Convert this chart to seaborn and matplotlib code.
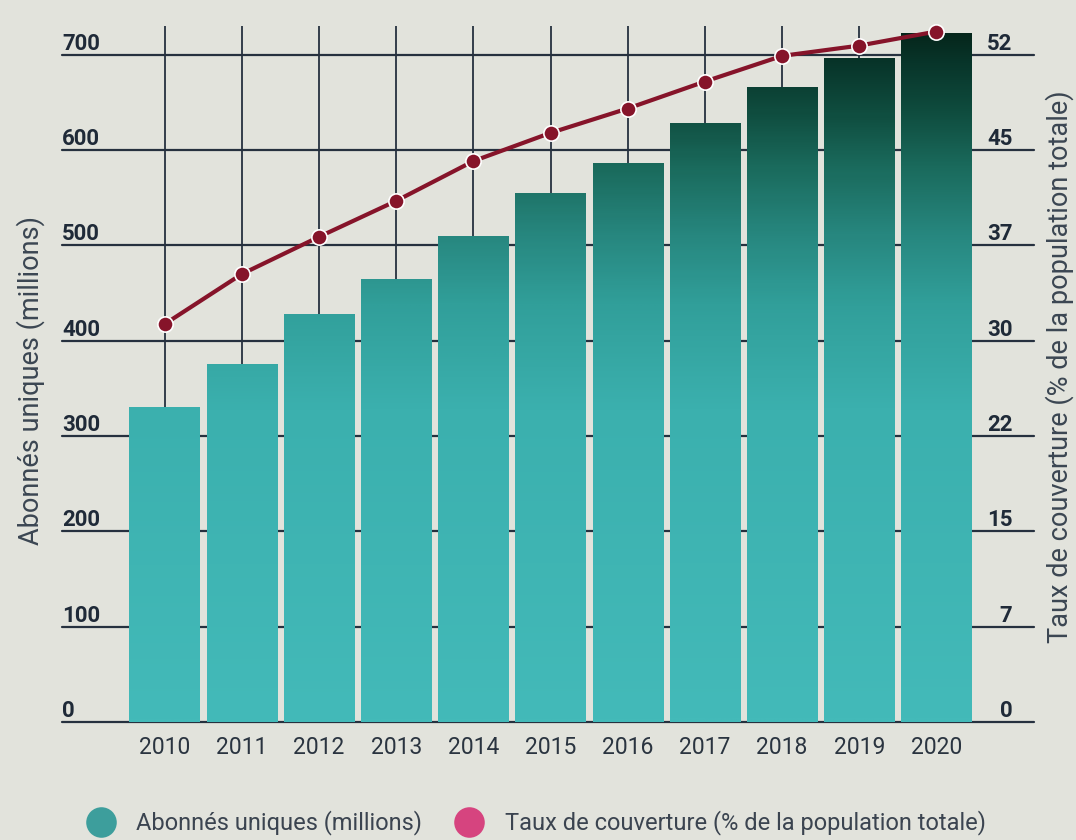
import numpy as np
import pandas as pd
import matplotlib
matplotlib.use("Agg")
import matplotlib.pyplot as plt
import seaborn as sns
from matplotlib.colors import LinearSegmentedColormap
from matplotlib.lines import Line2D

# --- data ---
years = ["2010", "2011", "2012", "2013", "2014", "2015",
         "2016", "2017", "2018", "2019", "2020"]
abonnes = [330, 375, 427, 464, 509, 554, 586, 628, 665, 696, 722]
taux = [31.0, 34.9, 37.8, 40.6, 43.7, 45.9, 47.8, 49.9, 51.9, 52.7, 53.8]
left_ticks = [0, 100, 200, 300, 400, 500, 600, 700]
right_tick_labels = ["0", "7", "15", "22", "30", "37", "45", "52"]

sns.set_style("white")
plt.rcParams["font.family"] = ["Roboto", "DejaVu Sans"]

bg = "#e2e3dc"
grid_col = "#26313f"
text_col = "#1f2a38"
label_col = "#3b4652"
bar_cmap = LinearSegmentedColormap.from_list(
    "teal", [(0.0, "#43bab9"), (0.45, "#3bb0ae"), (0.6, "#319f9a"),
             (0.7, "#27877f"), (0.8, "#1a6a5c"), (0.88, "#0f4c3e"),
             (0.95, "#08352a"), (1.0, "#052419")])

df = pd.DataFrame({"annee": years, "abonnes": abonnes, "taux": taux})
ymax = 730
ymax_right = ymax * 52 / 700

fig, ax = plt.subplots(figsize=(10.76, 8.4), dpi=100)
fig.patch.set_facecolor(bg)
ax.set_facecolor(bg)
fig.subplots_adjust(left=126 / 1076, right=975 / 1076, bottom=118 / 840, top=814 / 840)

# --- bars, filled with a vertical gradient ---
sns.barplot(data=df, x="annee", y="abonnes", color="#3aa9a8", width=0.91,
            ax=ax, zorder=2)
for bar in list(ax.patches):
    x0, w, h = bar.get_x(), bar.get_width(), bar.get_height()
    ax.imshow(np.linspace(0, h / ymax, 256).reshape(-1, 1), cmap=bar_cmap,
              vmin=0, vmax=1, extent=(x0, x0 + w, 0, h), origin="lower",
              aspect="auto", zorder=2.5)
    bar.set_facecolor("none")
    bar.set_edgecolor("none")
ax.set_xlim(-0.5, len(years) - 0.5)
ax.set_ylim(0, ymax)

# grid: vertical through categories, horizontal running under the tick labels
ax.set_axisbelow(True)
ax.grid(axis="x", color=grid_col, lw=1.3)
ax.grid(axis="y", visible=False)
ax.set_yticks(left_ticks)
for v in left_ticks:
    ax.axhline(v, xmin=-0.075, xmax=1.07, color=grid_col, lw=1.6,
               zorder=1, clip_on=False)

ax.tick_params(axis="y", length=0, pad=46, labelsize=16, labelcolor=text_col)
for lab in ax.get_yticklabels():
    lab.set_ha("left")
    lab.set_va("bottom")
    lab.set_fontweight("bold")
ax.tick_params(axis="x", length=0, pad=10, labelsize=16.5, labelcolor="#2a3440")
ax.set_xlabel("")
ax.set_ylabel("Abonnés uniques (millions)", fontsize=19.5, color=label_col)
ax.yaxis.set_label_coords(-0.095, 0.49)
sns.despine(ax=ax, left=True, bottom=True)

# --- coverage line on the right axis ---
ax2 = ax.twinx()
sns.pointplot(data=df, x="annee", y="taux", ax=ax2, color="#86142a",
              errorbar=None, markers="o", markersize=11, linewidth=3,
              markeredgecolor="white", markeredgewidth=1.2)
for ln in ax2.lines:
    ln.set_clip_on(False)
ax2.set_xlim(-0.5, len(years) - 0.5)
ax2.set_ylim(0, ymax_right)
ax2.grid(False)
ax2.set_yticks(np.linspace(0, 52, len(right_tick_labels)))
ax2.set_yticklabels(right_tick_labels)
ax2.tick_params(axis="y", length=0, pad=27, labelsize=16, labelcolor=text_col)
for lab in ax2.get_yticklabels():
    lab.set_ha("right")
    lab.set_va("bottom")
    lab.set_fontweight("bold")
ax2.set_ylabel("Taux de couverture (% de la population totale)", fontsize=19.5,
               color=label_col)
ax2.yaxis.set_label_coords(1.083, 0.51)
for s in ax2.spines.values():
    s.set_visible(False)

# --- legend ---
handles = [
    Line2D([], [], ls="", marker="o", markersize=22,
           markerfacecolor="#3d9e9c", markeredgecolor="none"),
    Line2D([], [], ls="", marker="o", markersize=22,
           markerfacecolor="#d6447f", markeredgecolor="none"),
]
fig.legend(handles, ["Abonnés uniques (millions)",
                     "Taux de couverture (% de la population totale)"],
           loc="center", bbox_to_anchor=(0.494, 17 / 840), ncol=2,
           frameon=False, fontsize=17, handletextpad=0.5,
           columnspacing=1.0, labelcolor="#3b4450")

fig.savefig("out.png", dpi=100, facecolor=bg)
